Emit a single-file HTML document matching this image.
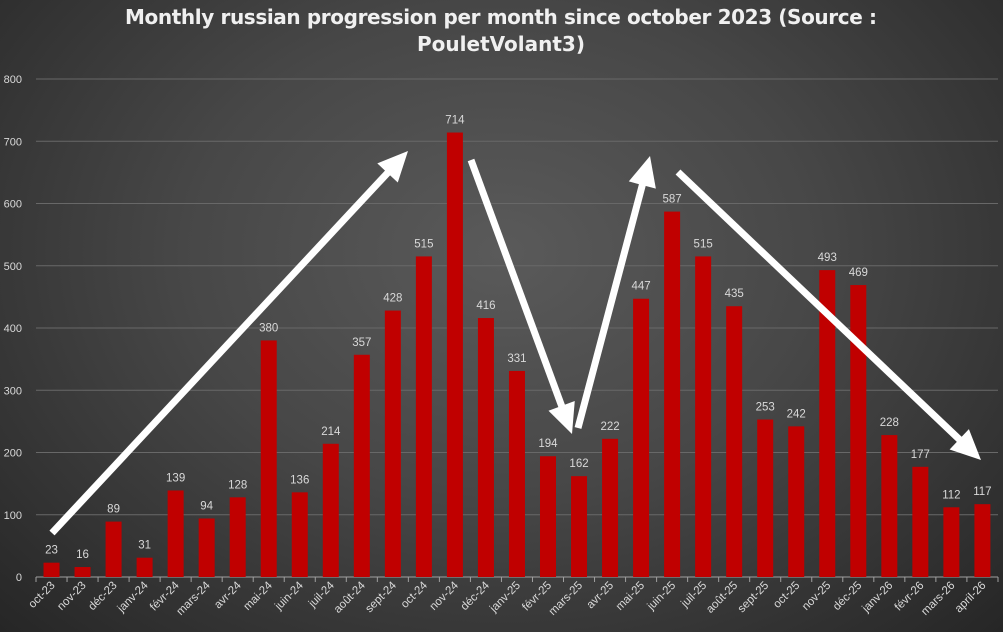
<!DOCTYPE html>
<html><head><meta charset="utf-8"><style>
html,body{margin:0;padding:0;}
body{width:1003px;height:632px;overflow:hidden;background:radial-gradient(ellipse at 50% 40%,#5a5a5a 0%,#474747 45%,#262626 100%);font-family:"Liberation Sans",sans-serif;}
svg{position:absolute;left:0;top:0;}
</style></head><body>
<svg id="c" width="1003" height="632" xmlns="http://www.w3.org/2000/svg">
<text x="501" y="24" text-anchor="middle" fill="#f0f0f0" font-size="20" font-weight="bold" font-family="DejaVu Sans, sans-serif" textLength="752">Monthly russian progression per month since october 2023 (Source :</text>
<text x="501" y="51" text-anchor="middle" fill="#f0f0f0" font-size="20" font-weight="bold" font-family="DejaVu Sans, sans-serif">PouletVolant3)</text>
</svg>
<script>
var s=document.getElementById('c'),NS='http://www.w3.org/2000/svg';
function el(t,a,txt){var e=document.createElementNS(NS,t);for(var k in a)e.setAttribute(k,a[k]);if(txt!=null)e.textContent=txt;s.appendChild(e);return e;}
var y0=577,k=0.6225,x0=36,w=31.03;
for(var v=0;v<=800;v+=100){var y=y0-v*k;
 if(v>0)el('line',{x1:x0,x2:998,y1:y,y2:y,stroke:'#686868','stroke-width':1});
 el('text',{x:22,y:y+4,'text-anchor':'end',fill:'#d9d9d9','font-size':11},String(v));}
var cats=["oct-23","nov-23","déc-23","janv-24","févr-24","mars-24","avr-24","mai-24","juin-24","juil-24","août-24","sept-24","oct-24","nov-24","déc-24","janv-25","févr-25","mars-25","avr-25","mai-25","juin-25","juil-25","août-25","sept-25","oct-25","nov-25","déc-25","janv-26","févr-26","mars-26","april-26"];
var vals=[23,16,89,31,139,94,128,380,136,214,357,428,515,714,416,331,194,162,222,447,587,515,435,253,242,493,469,228,177,112,117];
el('line',{x1:x0,x2:998,y1:y0,y2:y0,stroke:'#a0a0a0','stroke-width':1});
for(var i=0;i<cats.length;i++){var cx=x0+w*(i+.5),h=vals[i]*k;
 el('rect',{x:cx-8,y:y0-h,width:16,height:h,fill:'#c00000'});
 el('text',{x:cx,y:y0-h-9,'text-anchor':'middle',fill:'#d9d9d9','font-size':11.5},String(vals[i]));
 el('line',{x1:x0+w*i,x2:x0+w*i,y1:y0,y2:y0+5,stroke:'#a0a0a0'});
 el('text',{x:cx+4,y:y0+9,'text-anchor':'end',fill:'#d9d9d9','font-size':11.5,transform:'rotate(-45 '+(cx+4)+' '+(y0+9)+')'},cats[i]);}
el('line',{x1:998,x2:998,y1:y0,y2:y0+5,stroke:'#a0a0a0'});
function arrow(x1,y1,x2,y2){var dx=x2-x1,dy=y2-y1,L=Math.hypot(dx,dy),ux=dx/L,uy=dy/L,hl=30,hw=14;
 var bx=x2-ux*hl,by=y2-uy*hl;
 el('line',{x1:x1,y1:y1,x2:bx+ux*2,y2:by+uy*2,stroke:'#ffffff','stroke-width':7});
 el('polygon',{points:x2+','+y2+' '+(bx-uy*hw)+','+(by+ux*hw)+' '+(bx+uy*hw)+','+(by-ux*hw),fill:'#ffffff'});}
arrow(52,533,408,151);arrow(471,160,572,434);arrow(578,428,650,156);arrow(678,172,981,460);
</script>
</body></html>
